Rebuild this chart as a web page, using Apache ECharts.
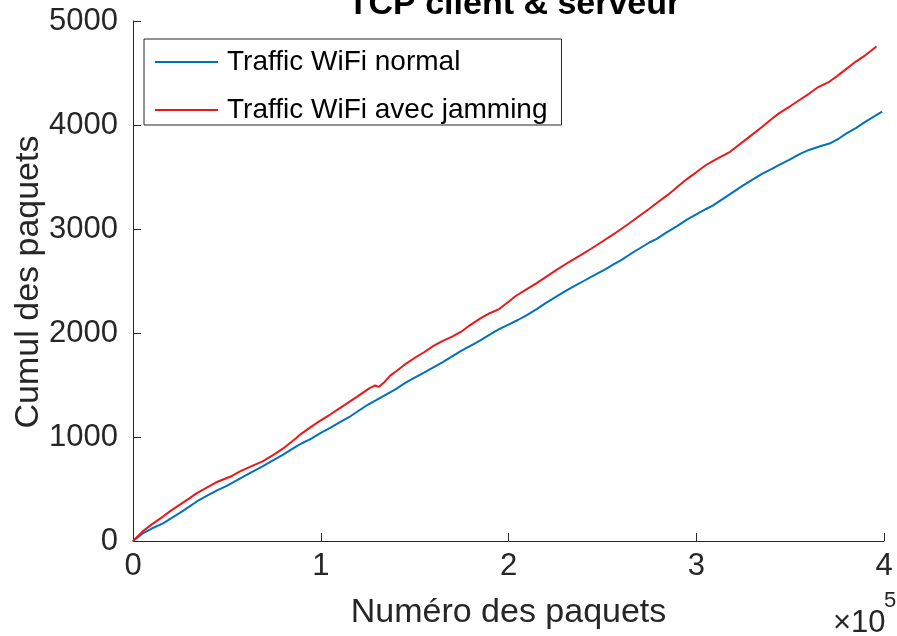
<!DOCTYPE html>
<html>
<head>
<meta charset="utf-8">
<script src="https://cdn.jsdelivr.net/npm/echarts@6/dist/echarts.min.js"></script>
<style>
  html, body { margin: 0; padding: 0; background: #fff; }
  #chart { width: 897px; height: 636px; }
</style>
</head>
<body>
<div id="chart"></div>
<script>
// Cumulative packet counts (x = packet number)
const xNormal = [0, 5000, 10000, 16000, 20000, 25000, 30000, 34000, 40000, 45000, 50000, 55000, 60000, 65000, 69000, 75000, 80000, 87000, 90000, 95000,
  100000, 105000, 110000, 115000, 120000, 125000, 130000, 135000, 140000, 145000, 150000, 155000, 160000, 165000, 170000, 175000, 179000, 185000, 190000, 195000,
  200000, 205000, 210000, 215000, 220000, 225000, 230000, 235000, 240000, 245000, 252000, 255000, 260000, 265000, 270000, 275000, 279000, 284000, 290000, 295000,
  300000, 305000, 309000, 315000, 320000, 325000, 330000, 335000, 340000, 344000, 350000, 355000, 360000, 366000, 371000, 376000, 380000, 385000, 390000, 395000, 399000];
const yNormal = [0, 70, 120, 170, 215, 270, 330, 380, 440, 490, 530, 580, 630, 680, 717, 780, 830, 910, 940, 985,
  1040, 1088, 1140, 1190, 1250, 1310, 1360, 1410, 1460, 1520, 1570, 1620, 1670, 1720, 1775, 1830, 1870, 1930, 1985, 2037,
  2080, 2125, 2175, 2230, 2290, 2345, 2400, 2450, 2500, 2550, 2616, 2650, 2700, 2760, 2815, 2870, 2905, 2965, 3030, 3090,
  3140, 3190, 3227, 3300, 3360, 3420, 3475, 3530, 3575, 3614, 3670, 3720, 3760, 3795, 3822, 3870, 3919, 3970, 4030, 4085, 4128];

const xJam = [0, 5000, 10000, 16000, 20000, 25000, 30000, 34000, 40000, 45000, 52000, 57000, 62000, 69000, 75000, 80000, 87000, 89000, 95000,
  100000, 105000, 110000, 115000, 120000, 126000, 129000, 131000, 134000, 137000, 140000, 145000, 150000, 155000, 160000, 165000, 170000, 175000, 179000, 185000, 190000, 195000,
  200000, 204000, 210000, 215000, 220000, 225000, 232000, 238000, 244000, 250000, 256000, 264000, 270000, 275000, 280000, 285000, 291000, 295000,
  300000, 305000, 310000, 318000, 325000, 330000, 335000, 340000, 344000, 350000, 355000, 360000, 365000, 371000, 375000, 380000, 385000, 390000, 396000];
const yJam = [0, 90, 160, 235, 290, 350, 410, 460, 520, 570, 620, 670, 710, 765, 830, 890, 991, 1023, 1100,
  1160, 1216, 1275, 1335, 1395, 1470, 1495, 1482, 1530, 1590, 1630, 1700, 1760, 1815, 1876, 1925, 1965, 2015, 2069, 2140, 2190, 2230,
  2300, 2358, 2425, 2480, 2540, 2600, 2680, 2744, 2810, 2880, 2950, 3050, 3130, 3195, 3265, 3330, 3420, 3480,
  3545, 3613, 3665, 3742, 3840, 3910, 3980, 4055, 4112, 4180, 4240, 4300, 4365, 4418, 4470, 4540, 4610, 4670, 4755];

const xTicks = [0, 1, 2, 3, 4];          // in units of 10^5
const yTicks = [0, 1000, 2000, 3000, 4000, 5000];

const FONT = '"Liberation Sans", Arial, Helvetica, sans-serif';
const AXIS_COLOR = '#262626';
const BLUE = '#0072BD';
const RED = '#E8191B';

const pairs = (xs, ys) => xs.map((x, i) => [x, ys[i]]);

const chart = echarts.init(document.getElementById('chart'), null, { renderer: 'canvas' });

chart.setOption({
  animation: false,
  backgroundColor: '#ffffff',
  title: {
    text: 'TCP client & serveur',
    left: 509,
    textAlign: 'center',
    top: -17,
    textStyle: { fontFamily: FONT, fontSize: 34, fontWeight: 'bold', color: '#000' }
  },
  grid: { left: 133, right: 13, top: 21, bottom: 95, containLabel: false, outerBoundsMode: 'none' },
  legend: {
    orient: 'vertical',
    left: 144,
    top: 39,
    icon: 'rect',
    itemWidth: 63,
    itemHeight: 2,
    itemGap: 20,
    padding: [9, 14, 1, 11],
    backgroundColor: '#ffffff',
    borderColor: AXIS_COLOR,
    borderWidth: 1,
    textStyle: { fontFamily: FONT, fontSize: 28, lineHeight: 28, color: '#000', padding: [0, 0, 0, 4] },
    data: ['Traffic WiFi normal', 'Traffic WiFi avec jamming']
  },
  xAxis: {
    type: 'value',
    min: xTicks[0] * 1e5,
    max: xTicks[xTicks.length - 1] * 1e5,
    interval: 1e5,
    name: 'Numéro des paquets',
    nameLocation: 'middle',
    nameGap: 55,
    nameTextStyle: { fontFamily: FONT, fontSize: 34, color: AXIS_COLOR },
    axisLine: { show: true, lineStyle: { color: AXIS_COLOR, width: 1 } },
    axisTick: { show: true, inside: true, length: 8, lineStyle: { color: AXIS_COLOR } },
    axisLabel: {
      fontFamily: FONT, fontSize: 31, color: AXIS_COLOR, margin: 10,
      formatter: v => String(Math.round(v / 1e5))
    },
    splitLine: { show: false }
  },
  yAxis: {
    type: 'value',
    min: yTicks[0],
    max: yTicks[yTicks.length - 1],
    interval: 1000,
    axisLine: { show: true, lineStyle: { color: AXIS_COLOR, width: 1 } },
    axisTick: { show: true, inside: true, length: 8, lineStyle: { color: AXIS_COLOR } },
    axisLabel: { fontFamily: FONT, fontSize: 31, color: AXIS_COLOR, margin: 15, formatter: v => String(v) },
    splitLine: { show: false }
  },
  series: [
    {
      name: 'Traffic WiFi normal',
      type: 'line',
      symbol: 'none',
      data: pairs(xNormal, yNormal),
      lineStyle: { color: BLUE, width: 2 },
      itemStyle: { color: BLUE },
      z: 2
    },
    {
      name: 'Traffic WiFi avec jamming',
      type: 'line',
      symbol: 'none',
      data: pairs(xJam, yJam),
      lineStyle: { color: RED, width: 2 },
      itemStyle: { color: RED },
      z: 3
    }
  ],
  graphic: [
    {
      // y-axis title, rotated
      type: 'text',
      x: 29,
      y: 282,
      rotation: Math.PI / 2,
      style: {
        text: 'Cumul des paquets',
        font: '34px ' + FONT,
        fill: AXIS_COLOR,
        textAlign: 'center',
        textVerticalAlign: 'middle'
      }
    },
    {
      type: 'text',
      left: 833,
      top: 608,
      style: { text: '×10', font: '31px ' + FONT, fill: AXIS_COLOR }
    },
    {
      type: 'text',
      left: 884,
      top: 590,
      style: { text: '5', font: '22px ' + FONT, fill: AXIS_COLOR }
    }
  ]
});
</script>
</body>
</html>
